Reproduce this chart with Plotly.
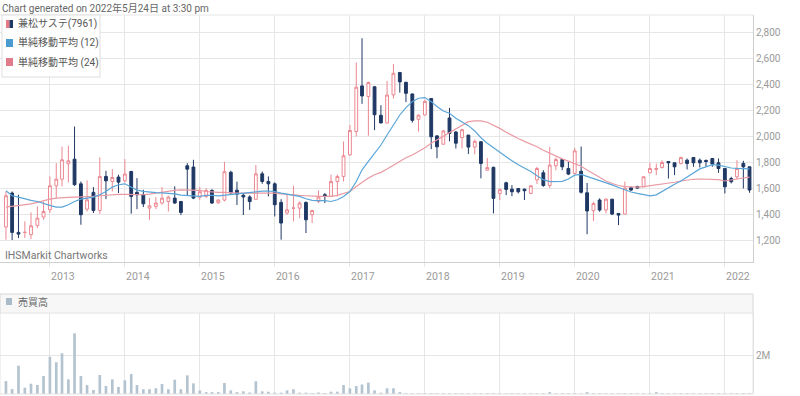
import plotly.graph_objects as go
import pandas as pd

# ---------------- data (monthly, Jun 2012 .. May 2022) ----------------
months = pd.date_range("2012-06-01", periods=120, freq="MS")

open_ = [
    1300, 1562, 1259, 1259, 1241, 1313, 1377,
    1433, 1618, 1669, 1787, 1823, 1633, 1438, 1567, 1428, 1690, 1651, 1685,
    1656, 1728, 1567, 1549, 1446, 1459, 1485, 1497, 1523, 1497, 1772, 1762,
    1530, 1536, 1582, 1487, 1508, 1722, 1584, 1545, 1532, 1514, 1710, 1651,
    1633, 1490, 1408, 1446, 1446, 1490, 1395, 1497, 1549, 1536, 1651, 1690,
    1856, 2036, 2387, 2305, 2380, 2161, 2102, 2318, 2490, 2415, 2325, 2130,
    2163, 2290, 2002, 1938, 2140, 2032, 1989, 2008, 1916, 1957, 1738, 1760,
    1559, 1641, 1592, 1597, 1592, 1559, 1663, 1718, 1620, 1772, 1820, 1751,
    1713, 1730, 1564, 1426, 1508, 1431, 1515, 1405, 1400, 1603, 1612, 1610,
    1718, 1744, 1759, 1805, 1795, 1790, 1815, 1836, 1815, 1813, 1828, 1795,
    1751, 1674, 1687, 1790, 1764,
]
high = [
    1574, 1574, 1549, 1344, 1413, 1459, 1497,
    1690, 1792, 1920, 1926, 2074, 1651, 1659, 1608, 1836, 1733, 1746, 1703,
    1823, 1733, 1677, 1587, 1523, 1531, 1608, 1541, 1613, 1497, 1792, 1818,
    1610, 1600, 1592, 1515, 1803, 1733, 1650, 1560, 1545, 1778, 1728, 1690,
    1644, 1515, 1549, 1618, 1497, 1497, 1433, 1582, 1562, 1703, 1703, 1959,
    2087, 2567, 2754, 2420, 2385, 2238, 2425, 2555, 2495, 2418, 2328, 2166,
    2280, 2292, 2008, 2048, 2218, 2040, 2057, 2010, 1975, 1962, 1832, 1765,
    1598, 1649, 1623, 1597, 1597, 1623, 1764, 1738, 1918, 1836, 1822, 1803,
    1910, 1920, 1640, 1495, 1521, 1521, 1515, 1405, 1650, 1612, 1618, 1692,
    1795, 1790, 1815, 1805, 1795, 1841, 1828, 1836, 1828, 1820, 1828, 1828,
    1751, 1687, 1815, 1810, 1764,
]
low = [
    1203, 1200, 1215, 1215, 1208, 1292, 1356,
    1408, 1523, 1613, 1644, 1618, 1318, 1420, 1408, 1402, 1515, 1574, 1562,
    1644, 1403, 1438, 1454, 1356, 1438, 1472, 1420, 1479, 1392, 1540, 1515,
    1510, 1523, 1479, 1479, 1497, 1556, 1470, 1393, 1432, 1510, 1633, 1536,
    1382, 1203, 1395, 1344, 1369, 1254, 1331, 1485, 1485, 1531, 1536, 1651,
    1849, 1997, 2249, 2003, 2046, 2098, 2098, 2290, 2335, 2262, 2105, 2035,
    2160, 1900, 1830, 1935, 1960, 1905, 1905, 1863, 1860, 1675, 1736, 1405,
    1508, 1546, 1538, 1559, 1508, 1554, 1631, 1610, 1600, 1738, 1738, 1700,
    1705, 1558, 1245, 1346, 1418, 1405, 1392, 1315, 1398, 1578, 1595, 1608,
    1713, 1700, 1751, 1674, 1700, 1782, 1744, 1764, 1759, 1764, 1764, 1718,
    1559, 1636, 1667, 1597, 1564,
]
close = [
    1541, 1259, 1246, 1259, 1310, 1369, 1420,
    1618, 1669, 1818, 1810, 1626, 1395, 1510, 1428, 1690, 1656, 1682, 1646,
    1708, 1536, 1549, 1479, 1464, 1485, 1523, 1531, 1485, 1413, 1746, 1523,
    1572, 1582, 1485, 1508, 1726, 1563, 1553, 1532, 1496, 1710, 1651, 1633,
    1472, 1331, 1433, 1446, 1485, 1356, 1428, 1531, 1536, 1651, 1690, 1849,
    2044, 2377, 2310, 2413, 2165, 2102, 2317, 2484, 2418, 2330, 2122, 2162,
    2268, 1995, 1918, 2040, 2021, 1946, 2050, 1916, 1960, 1790, 1758, 1521,
    1588, 1590, 1572, 1572, 1580, 1618, 1751, 1620, 1777, 1820, 1764, 1708,
    1887, 1568, 1424, 1482, 1431, 1515, 1400, 1392, 1600, 1585, 1600, 1687,
    1751, 1751, 1797, 1795, 1764, 1836, 1790, 1795, 1795, 1805, 1785, 1751,
    1610, 1649, 1751, 1764, 1585,
]
ma12 = [
    1579, 1541, 1531, 1515, 1505, 1497, 1485,
    1467, 1454, 1454, 1472, 1497, 1515, 1523, 1531, 1549, 1574, 1608, 1626,
    1633, 1608, 1585, 1575, 1568, 1565, 1564, 1562, 1556, 1546, 1544, 1538,
    1537, 1544, 1545, 1540, 1545, 1552, 1560, 1565, 1568, 1572, 1576, 1577,
    1574, 1562, 1554, 1549, 1536, 1518, 1505, 1503, 1503, 1497, 1510, 1536,
    1574, 1651, 1741, 1805, 1870, 1932, 2009, 2086, 2163, 2220, 2266, 2292,
    2297, 2266, 2228, 2194, 2176, 2138, 2112, 2081, 2040, 1988, 1945, 1911,
    1875, 1845, 1810, 1780, 1755, 1728, 1695, 1665, 1650, 1650, 1652, 1670,
    1700, 1705, 1690, 1675, 1660, 1645, 1625, 1605, 1585, 1570, 1559, 1548,
    1540, 1548, 1575, 1605, 1630, 1655, 1685, 1720, 1748, 1764, 1780, 1777,
    1765, 1755, 1752, 1750, 1748,
]
ma24 = [
    1454, 1459, 1467, 1472, 1479, 1490, 1505,
    1515, 1523, 1523, 1528, 1531, 1531, 1531, 1536, 1541, 1546, 1551, 1551,
    1551, 1549, 1546, 1549, 1554, 1562, 1567, 1574, 1582, 1587, 1587, 1587,
    1582, 1574, 1569, 1567, 1567, 1562, 1562, 1562, 1562, 1562, 1562, 1562,
    1562, 1556, 1551, 1549, 1544, 1541, 1536, 1536, 1536, 1536, 1544, 1556,
    1574, 1613, 1644, 1677, 1703, 1721, 1747, 1778, 1809, 1834, 1855, 1881,
    1911, 1945, 1971, 1996, 2030, 2055, 2086, 2112, 2117, 2117, 2107, 2086,
    2060, 2030, 2005, 1982, 1960, 1940, 1918, 1892, 1868, 1843, 1825, 1808,
    1790, 1768, 1740, 1712, 1682, 1655, 1635, 1620, 1612, 1608, 1608, 1612,
    1618, 1625, 1632, 1638, 1645, 1655, 1662, 1668, 1670, 1670, 1668, 1665,
    1655, 1660, 1670, 1678, 1685,
]
volume_m = [
    0.68, 0.26, 1.49, 0.33, 0.54, 0.47, 0.95,
    1.96, 1.67, 2.14, 0.77, 3.19, 0.95, 0.47, 0.21, 1.00, 0.42, 0.77, 0.37,
    0.72, 1.05, 0.47, 0.25, 0.25, 0.30, 0.53, 0.25, 0.75, 0.25, 0.98, 0.56,
    0.19, 0.10, 0.10, 0.10, 0.58, 0.19, 0.10, 0.14, 0.08, 0.67, 0.14, 0.12,
    0.07, 0.07, 0.19, 0.25, 0.07, 0.07, 0.05, 0.08, 0.05, 0.12, 0.12, 0.47,
    0.30, 0.42, 0.50, 0.60, 0.19, 0.07, 0.30, 0.30, 0.10, 0.04, 0.04, 0.04,
    0.04, 0.04, 0.04, 0.04, 0.04, 0.04, 0.04, 0.04, 0.04, 0.04, 0.04, 0.04,
    0.04, 0.04, 0.04, 0.04, 0.04, 0.04, 0.04, 0.04, 0.10, 0.04, 0.04, 0.04,
    0.04, 0.04, 0.10, 0.04, 0.04, 0.04, 0.04, 0.04, 0.04, 0.04, 0.04, 0.04,
    0.04, 0.10, 0.04, 0.04, 0.04, 0.04, 0.04, 0.04, 0.04, 0.04, 0.04, 0.04,
    0.04, 0.04, 0.04, 0.04, 0.04,
]
year_ticks = [f"{y}-01-01" for y in range(2013, 2023)]
year_labels = [str(y) for y in range(2013, 2023)]
price_ticks = [1200, 1400, 1600, 1800, 2000, 2200, 2400, 2600, 2800]

# ---------------- style ----------------
W, H = 800, 396
PINK = "#ec8791"
NAVY = "#1f3864"
BLUE = "#5aa6d8"
MAPINK = "#e99aa3"
VOLC = "#b3c3cf"
GRID = "#e6e6e6"
AXIS = "#cfcfcf"
TXT = "#9a9a9a"
FONT = "Roboto, 'Noto Sans CJK JP', sans-serif"
PLOT_R = 753 / W
XR = ["2012-05-03", "2022-05-18"]


def py(p):
    return 1 - p / H


def px(p):
    return p / W


fig = go.Figure()
fig.add_trace(go.Candlestick(
    x=months, open=open_, high=high, low=low, close=close,
    increasing=dict(line=dict(color=PINK, width=1), fillcolor="white"),
    decreasing=dict(line=dict(color=NAVY, width=1), fillcolor=NAVY),
    whiskerwidth=0, showlegend=False, hoverinfo="skip",
    xaxis="x", yaxis="y"))
fig.add_trace(go.Scatter(x=months, y=ma24, mode="lines",
                         line=dict(color=MAPINK, width=1.2),
                         showlegend=False, hoverinfo="skip", xaxis="x", yaxis="y"))
fig.add_trace(go.Scatter(x=months, y=ma12, mode="lines",
                         line=dict(color=BLUE, width=1.2),
                         showlegend=False, hoverinfo="skip", xaxis="x", yaxis="y"))
fig.add_trace(go.Bar(x=months, y=[v * 1e6 for v in volume_m],
                     width=13 * 86400000, marker=dict(color=VOLC, line=dict(width=0)),
                     showlegend=False, hoverinfo="skip", xaxis="x2", yaxis="y2"))

shapes = [
    # top border of price panel
    dict(type="line", xref="paper", yref="paper", x0=0, x1=PLOT_R, y0=py(15), y1=py(15),
         line=dict(color=GRID, width=1)),
    # volume panel outline and header strip
    dict(type="rect", xref="paper", yref="paper", x0=0, x1=PLOT_R, y0=py(313), y1=py(294),
         fillcolor="#f7f7f7", line=dict(color="#e2e2e2", width=1), layer="below"),
    dict(type="rect", xref="paper", yref="paper", x0=0, x1=PLOT_R, y0=py(394), y1=py(294),
         fillcolor="rgba(0,0,0,0)", line=dict(color="#e2e2e2", width=1)),
    # legend box
    dict(type="rect", xref="paper", yref="paper", x0=px(2), x1=px(100), y0=py(77), y1=py(15),
         fillcolor="white", line=dict(color="#dddddd", width=1), layer="above"),
    dict(type="rect", xref="paper", yref="paper", x0=px(6), x1=px(9.5), y0=py(28), y1=py(20),
         fillcolor="#e57882", line=dict(width=0), layer="above"),
    dict(type="rect", xref="paper", yref="paper", x0=px(9.5), x1=px(13), y0=py(28), y1=py(20),
         fillcolor=NAVY, line=dict(width=0), layer="above"),
    dict(type="rect", xref="paper", yref="paper", x0=px(6), x1=px(13), y0=py(47), y1=py(39),
         fillcolor="#4a9bd0", line=dict(width=0), layer="above"),
    dict(type="rect", xref="paper", yref="paper", x0=px(6), x1=px(13), y0=py(66), y1=py(58),
         fillcolor="#e07c8a", line=dict(width=0), layer="above"),
    dict(type="rect", xref="paper", yref="paper", x0=px(6), x1=px(12), y0=py(305), y1=py(298),
         fillcolor="#a9bac8", line=dict(width=0), layer="above"),
]


def ann(text, x, y, size=10, color="#555555"):
    return dict(text=text, xref="paper", yref="paper", x=px(x), y=py(y),
                xanchor="left", yanchor="middle", showarrow=False,
                font=dict(family=FONT, size=size, color=color))


annotations = [
    ann("Chart generated on 2022年5月24日 at 3:30 pm", 0, 8, 10, "#666666"),
    ann("兼松サステ(7961)", 16, 24, 10, "#555555"),
    ann("単純移動平均 (12)", 16, 43, 10, "#555555"),
    ann("単純移動平均 (24)", 16, 62, 10, "#555555"),
    ann("IHSMarkit Chartworks", 3, 255, 10.5, "#777777"),
    ann("売買高", 16, 302, 10, "#666666"),
]

fig.update_layout(
    width=W, height=H,
    margin=dict(l=0, r=0, t=0, b=0),
    template="none",
    paper_bgcolor="white", plot_bgcolor="white",
    font=dict(family=FONT, size=10, color=TXT),
    showlegend=False,
    boxgap=0.3,
    hovermode=False,
    xaxis=dict(domain=[0, PLOT_R], range=XR, type="date", anchor="y",
               tickvals=year_ticks, ticktext=year_labels,
               showgrid=True, gridcolor=GRID, gridwidth=1,
               ticks="outside", ticklen=4, tickcolor=GRID,
               showline=True, linecolor=AXIS, linewidth=1,
               tickfont=dict(size=10.5, color=TXT), ticklabelshift=13,
               rangeslider=dict(visible=False), automargin=False, zeroline=False),
    yaxis=dict(domain=[py(262), py(15)], range=[1031, 2933], anchor="x",
               side="right", tickvals=price_ticks, tickformat=",",
               showgrid=True, gridcolor=GRID, gridwidth=1,
               showline=True, linecolor=AXIS, linewidth=1, ticks="",
               tickfont=dict(size=10, color=TXT), automargin=False, zeroline=False),
    xaxis2=dict(domain=[0, PLOT_R], range=XR, type="date", anchor="y2",
                tickvals=year_ticks, showticklabels=False,
                showgrid=True, gridcolor=GRID, gridwidth=1, ticks="",
                showline=False, automargin=False, zeroline=False),
    yaxis2=dict(domain=[py(394), py(313)], range=[0, 4.26e6], anchor="x2",
                side="right", tickvals=[2e6], ticktext=["2M"],
                showgrid=True, gridcolor=GRID, gridwidth=1,
                showline=True, linecolor="#e2e2e2", linewidth=1, ticks="",
                tickfont=dict(size=10, color=TXT), automargin=False, zeroline=False),
    shapes=shapes,
    annotations=annotations,
)

fig.write_html(
    "out.html",
    config={"displayModeBar": False, "staticPlot": True},
    post_script="document.body.style.margin='0';document.body.style.overflow='hidden';",
)
